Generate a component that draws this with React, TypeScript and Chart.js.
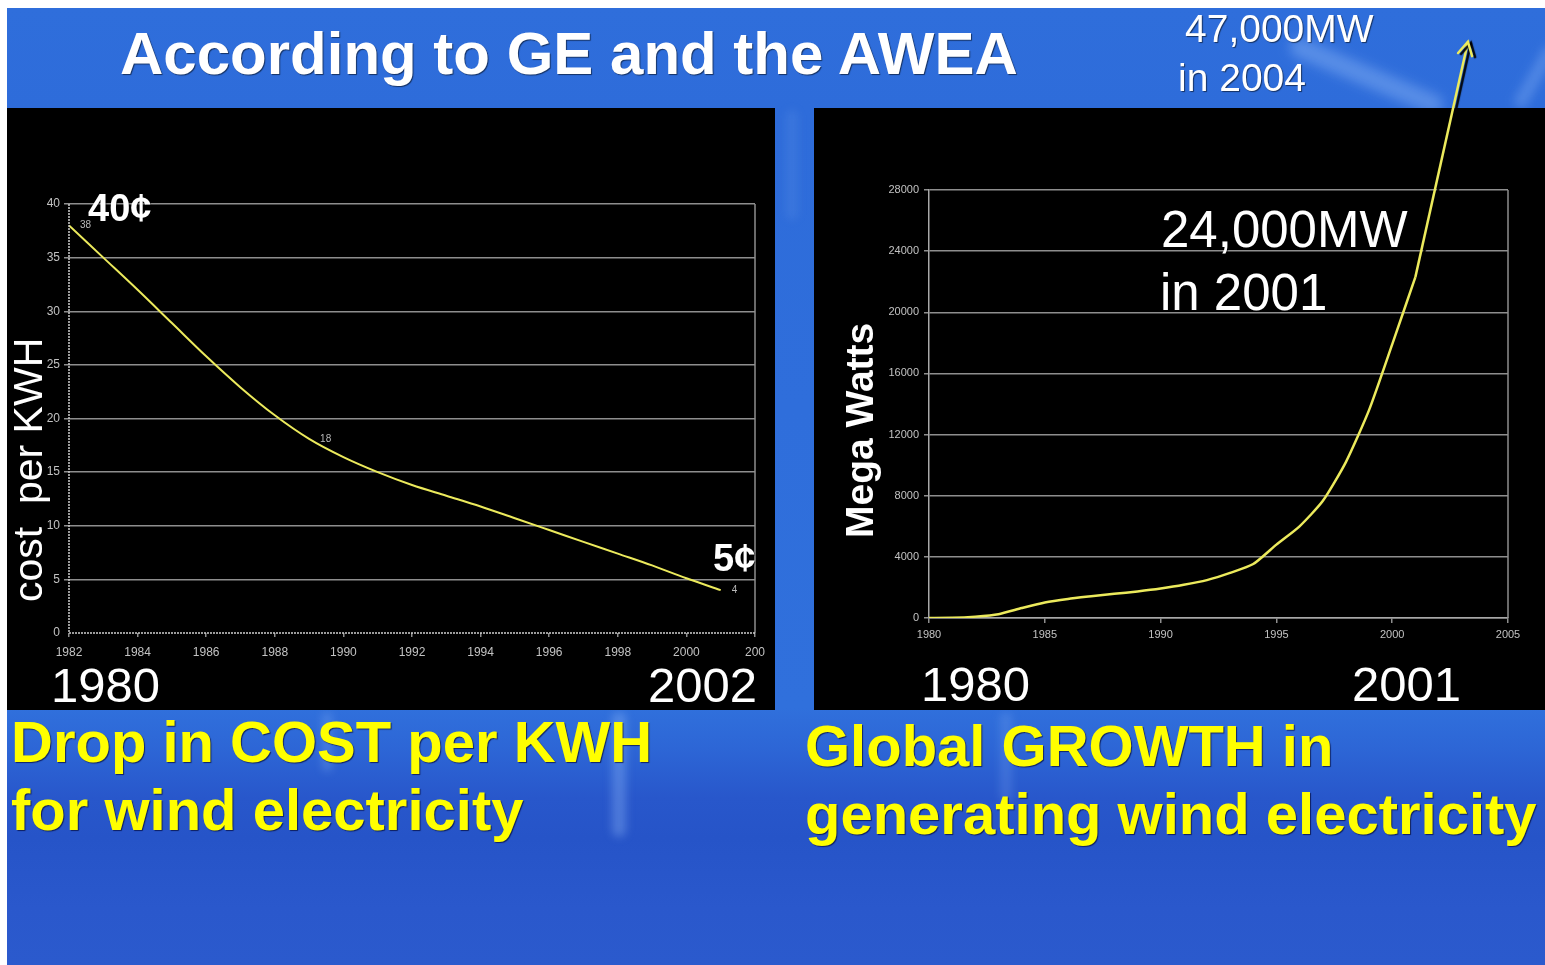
import React, { useEffect, useRef } from "react";
import { Chart, registerables } from "chart.js";

Chart.register(...registerables);

// ---------- data: left chart (cost per KWH, cents) ----------
const costYears = [1982, 1983, 1984, 1985, 1986, 1987, 1988, 1989, 1990, 1991, 1992, 1993, 1994, 1995, 1996, 1997, 1998, 1999, 2000, 2001];
const costValues = [38, 35.0, 32.0, 28.9, 25.8, 22.9, 20.3, 18.1, 16.4, 15.0, 13.8, 12.8, 11.8, 10.7, 9.6, 8.5, 7.4, 6.3, 5.1, 4];
const costLabelYears = [1982, 1989, 2001];
const costLabelTexts = ["38", "18", "4"];
const costXTicks = [1982, 1984, 1986, 1988, 1990, 1992, 1994, 1996, 1998, 2000, 2002];
const costXTickLabels = ["1982", "1984", "1986", "1988", "1990", "1992", "1994", "1996", "1998", "2000", "200"];
const costYTicks = [0, 5, 10, 15, 20, 25, 30, 35, 40];

// ---------- data: right chart (global capacity, MW) ----------
const mwYears = [1980, 1981, 1982, 1983, 1984, 1985, 1986, 1987, 1988, 1989, 1990, 1991, 1992, 1993, 1994, 1995, 1996, 1997, 1998, 1999, 2000, 2001];
const mwValues = [0, 10, 90, 250, 650, 1020, 1250, 1420, 1580, 1740, 1930, 2170, 2480, 2950, 3530, 4800, 6000, 7650, 10200, 13600, 17900, 22300];
const arrowYears = [2001, 2003.27];
const arrowValues = [22300, 37700];
const mwXTicks = [1980, 1985, 1990, 1995, 2000, 2005];
const mwYTicks = [0, 4000, 8000, 12000, 16000, 20000, 24000, 28000];

const FONT = '"Liberation Sans", Arial, Helvetica, sans-serif';
const LINE = "#ecea5c";
const GRID = "#8e8e8e";
const TICK = "#c2c2c2";

function LeftChart() {
  const ref = useRef<HTMLCanvasElement | null>(null);
  useEffect(() => {
    if (!ref.current) return;
    const frame = {
      id: "frameL",
      afterDraw(chart: any) {
        const { ctx, chartArea } = chart;
        ctx.save();
        ctx.strokeStyle = GRID;
        ctx.lineWidth = 1.5;
        ctx.beginPath();
        ctx.moveTo(chartArea.right, chartArea.top);
        ctx.lineTo(chartArea.right, chartArea.bottom);
        ctx.stroke();
        ctx.strokeStyle = "#cfcfcf";
        ctx.setLineDash([2, 1]);
        ctx.beginPath();
        ctx.moveTo(chartArea.left, chartArea.top);
        ctx.lineTo(chartArea.left, chartArea.bottom);
        ctx.lineTo(chartArea.right, chartArea.bottom);
        ctx.stroke();
        ctx.restore();
      },
      afterDatasetsDraw(chart: any) {
        const { ctx } = chart;
        const meta = chart.getDatasetMeta(0);
        ctx.save();
        ctx.font = `10px ${FONT}`;
        ctx.fillStyle = "#b8b8b8";
        ctx.textAlign = "left";
        ctx.textBaseline = "middle";
        costLabelYears.forEach((yr, k) => {
          const i = costYears.indexOf(yr);
          const p = meta.data[i];
          if (p) ctx.fillText(costLabelTexts[k], p.x + 11, p.y);
        });
        ctx.restore();
      },
    };
    const chart = new Chart(ref.current, {
      type: "line",
      data: {
        datasets: [
          {
            data: costYears.map((x, i) => ({ x, y: costValues[i] })),
            borderColor: LINE,
            borderWidth: 2,
            pointRadius: 0,
            cubicInterpolationMode: "monotone",
            fill: false,
          },
        ],
      },
      options: {
        animation: false,
        responsive: false,
        maintainAspectRatio: false,
        layout: { padding: { left: 0, top: 96, right: 20, bottom: 0 } },
        plugins: { legend: { display: false }, tooltip: { enabled: false }, title: { display: false } },
        scales: {
          x: {
            type: "linear",
            min: 1982,
            max: 2002,
            afterFit: (s: any) => { s.height = 77; },
            afterBuildTicks: (s: any) => { s.ticks = costXTicks.map((v) => ({ value: v })); },
            ticks: {
              callback: (_v: any, i: number) => costXTickLabels[i],
              color: TICK,
              font: { family: FONT, size: 12 },
              padding: 8,
              maxRotation: 0,
              autoSkip: false,
            },
            grid: { drawOnChartArea: false, drawTicks: true, tickLength: 4, color: GRID, lineWidth: 1.5 },
            border: { display: false },
          },
          y: {
            type: "linear",
            min: 0,
            max: 40,
            afterFit: (s: any) => { s.width = 62; },
            afterBuildTicks: (s: any) => { s.ticks = costYTicks.map((v) => ({ value: v })); },
            ticks: { color: TICK, font: { family: FONT, size: 12 }, padding: 4 },
            grid: {
              color: (c: any) => (c.tick && c.tick.value === 0 ? "rgba(0,0,0,0)" : GRID),
              lineWidth: 1.5,
              tickLength: 5,
            },
            border: { display: false },
          },
        },
      },
      plugins: [frame],
    });
    return () => chart.destroy();
  }, []);
  return (
    <canvas
      ref={ref}
      width={768}
      height={602}
      style={{ position: "absolute", left: 7, top: 108, width: 768, height: 602, background: "#000" }}
    />
  );
}

function RightChart() {
  const ref = useRef<HTMLCanvasElement | null>(null);
  useEffect(() => {
    if (!ref.current) return;
    const deco = {
      id: "decoR",
      beforeDraw(chart: any) {
        const { ctx } = chart;
        ctx.save();
        ctx.fillStyle = "#000";
        ctx.fillRect(0, 100, chart.width, chart.height - 100);
        ctx.restore();
      },
      afterDraw(chart: any) {
        const { ctx, chartArea } = chart;
        ctx.save();
        ctx.strokeStyle = GRID;
        ctx.lineWidth = 1.5;
        ctx.beginPath();
        ctx.moveTo(chartArea.right, chartArea.top);
        ctx.lineTo(chartArea.right, chartArea.bottom);
        ctx.stroke();
        ctx.restore();
      },
      beforeDatasetDraw(chart: any, args: any) {
        if (args.index === 1) {
          const c = chart.ctx;
          c.save();
          c.shadowColor = "rgba(0,0,0,0.95)";
          c.shadowOffsetX = 3;
          c.shadowOffsetY = 1;
          c.shadowBlur = 1;
        }
      },
      afterDatasetDraw(chart: any, args: any) {
        if (args.index === 1) {
          const c = chart.ctx;
          const pts = chart.getDatasetMeta(1).data;
          const p1 = pts[pts.length - 1];
          const p0 = pts[pts.length - 2];
          if (p1 && p0) {
            const ang = Math.atan2(p1.y - p0.y, p1.x - p0.x);
            const len = 15;
            c.strokeStyle = LINE;
            c.lineWidth = 2.5;
            c.lineCap = "round";
            c.beginPath();
            c.moveTo(p1.x - len * Math.cos(ang - 0.5), p1.y - len * Math.sin(ang - 0.5));
            c.lineTo(p1.x, p1.y);
            c.lineTo(p1.x - len * Math.cos(ang + 0.5), p1.y - len * Math.sin(ang + 0.5));
            c.stroke();
          }
          c.restore();
        }
      },
    };
    const chart = new Chart(ref.current, {
      type: "line",
      data: {
        datasets: [
          {
            data: mwYears.map((x, i) => ({ x, y: mwValues[i] })),
            borderColor: LINE,
            borderWidth: 2.5,
            pointRadius: 0,
            tension: 0.2,
            fill: false,
          },
          {
            data: arrowYears.map((x, i) => ({ x, y: arrowValues[i] })),
            borderColor: LINE,
            borderWidth: 2.5,
            pointRadius: 0,
            tension: 0,
            fill: false,
            clip: false,
          } as any,
        ],
      },
      options: {
        animation: false,
        responsive: false,
        maintainAspectRatio: false,
        layout: { padding: { left: 0, top: 182, right: 37, bottom: 0 } },
        plugins: { legend: { display: false }, tooltip: { enabled: false }, title: { display: false } },
        scales: {
          x: {
            type: "linear",
            min: 1980,
            max: 2005,
            afterFit: (s: any) => { s.height = 92; },
            afterBuildTicks: (s: any) => { s.ticks = mwXTicks.map((v) => ({ value: v })); },
            ticks: {
              callback: (v: any) => String(v),
              color: TICK,
              font: { family: FONT, size: 11 },
              padding: 5,
              maxRotation: 0,
              autoSkip: false,
            },
            grid: { drawOnChartArea: false, drawTicks: true, tickLength: 5, color: GRID, lineWidth: 1.5 },
            border: { color: "#a8a8a8", width: 1.5 },
          },
          y: {
            type: "linear",
            min: 0,
            max: 28000,
            afterFit: (s: any) => { s.width = 115; },
            afterBuildTicks: (s: any) => { s.ticks = mwYTicks.map((v) => ({ value: v })); },
            ticks: { callback: (v: any) => String(v), color: TICK, font: { family: FONT, size: 11 }, padding: 5 },
            grid: { color: GRID, lineWidth: 1.5, tickLength: 5 },
            border: { color: "#a8a8a8", width: 1.5 },
          },
        },
      },
      plugins: [deco],
    });
    return () => chart.destroy();
  }, []);
  return (
    <canvas
      ref={ref}
      width={731}
      height={702}
      style={{ position: "absolute", left: 814, top: 8, width: 731, height: 702 }}
    />
  );
}

const WHITE_SHADOW = "1px 1px 1px rgba(0,0,0,0.55)";
const YELLOW_SHADOW = "1px 1px 1px rgba(0,0,40,0.65)";

function T(props: { x: number; y: number; size: number; bold?: boolean; color?: string; shadow?: string; children: any }) {
  const { x, y, size, bold, color, shadow, children } = props;
  return (
    <div
      style={{
        position: "absolute",
        left: x,
        top: y - 0.8465 * size,
        fontSize: size,
        lineHeight: `${size}px`,
        fontFamily: FONT,
        fontWeight: bold ? "bold" : "normal",
        color: color || "#fff",
        whiteSpace: "pre",
        textShadow: shadow || WHITE_SHADOW,
      }}
    >
      {children}
    </div>
  );
}

function RotT(props: { x: number; y: number; size: number; bold?: boolean; children: any }) {
  const { x, y, size, bold, children } = props;
  return (
    <div
      style={{
        position: "absolute",
        left: x - 0.8465 * size,
        top: y,
        fontSize: size,
        lineHeight: `${size}px`,
        fontFamily: FONT,
        fontWeight: bold ? "bold" : "normal",
        color: "#fff",
        whiteSpace: "pre",
        transformOrigin: "0 0",
        transform: "rotate(-90deg)",
        textShadow: WHITE_SHADOW,
      }}
    >
      {children}
    </div>
  );
}

function Streak(props: { x: number; y: number; w: number; h: number; rot?: number; a?: number; blur?: number }) {
  const { x, y, w, h, rot = 0, a = 0.35, blur = 4 } = props;
  return (
    <div
      style={{
        position: "absolute",
        left: x,
        top: y,
        width: w,
        height: h,
        borderRadius: Math.min(w, h) / 2,
        background: `rgba(150,190,250,${a})`,
        filter: `blur(${blur}px)`,
        transform: `rotate(${rot}deg)`,
      }}
    />
  );
}

export default function App() {
  return (
    <div style={{ position: "absolute", left: 0, top: 0, width: 1545, height: 965, overflow: "hidden", background: "#fff" }}>
      <div
        style={{
          position: "absolute",
          left: 7,
          top: 8,
          width: 1538,
          height: 957,
          background:
            "linear-gradient(to bottom, #2f6edb 0px, #2e6cda 100px, #3070dc 700px, #2d66d6 740px, #2857cb 790px, #2654c8 830px, #2a58cc 900px, #2b5acd 957px)",
        }}
      />
      <Streak x={1284} y={66} w={165} h={20} rot={23} a={0.4} blur={6} />
      <Streak x={1500} y={70} w={70} h={14} rot={-60} a={0.3} blur={5} />
      <Streak x={612} y={712} w={14} h={125} a={0.35} />
      <Streak x={322} y={712} w={10} h={60} a={0.25} />
      <Streak x={1000} y={712} w={12} h={90} a={0.2} />
      <Streak x={786} y={110} w={12} h={110} a={0.12} />

      <LeftChart />
      <RightChart />

      <T x={120} y={74.5} size={60} bold>According to GE and the AWEA</T>
      <T x={1185} y={42} size={39}>47,000MW</T>
      <T x={1178} y={91} size={39}>in 2004</T>

      <T x={1161} y={247} size={51}>24,000MW</T>
      <T x={1160} y={310} size={51}>in 2001</T>

      <T x={88} y={221.5} size={38} bold>40¢</T>
      <T x={713} y={571} size={38} bold>5¢</T>

      <T x={51} y={702} size={49}>1980</T>
      <T x={648} y={702} size={49}>2002</T>
      <T x={921} y={701} size={49}>1980</T>
      <T x={1352} y={701} size={49}>2001</T>

      <RotT x={43} y={602} size={41}>cost  per KWH</RotT>
      <RotT x={873} y={538} size={39} bold>Mega Watts</RotT>

      <T x={11} y={762} size={58} bold color="#ffff00" shadow={YELLOW_SHADOW}>Drop in COST per KWH</T>
      <T x={11} y={830} size={58} bold color="#ffff00" shadow={YELLOW_SHADOW}>for wind electricity</T>
      <T x={805} y={766} size={58} bold color="#ffff00" shadow={YELLOW_SHADOW}>Global GROWTH in</T>
      <T x={805} y={834} size={58} bold color="#ffff00" shadow={YELLOW_SHADOW}>generating wind electricity</T>
    </div>
  );
}
